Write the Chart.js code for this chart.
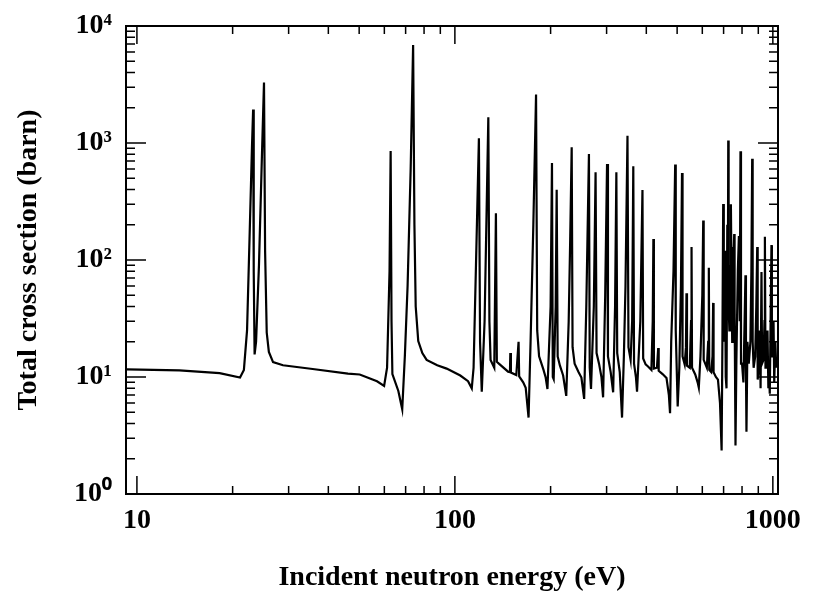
<!DOCTYPE html>
<html>
<head>
<meta charset="utf-8">
<script src="https://cdn.jsdelivr.net/npm/chart.js@4.4.1/dist/chart.umd.min.js"></script>
<style>
  html, body { margin: 0; padding: 0; background: #fff; }
  #wrap { width: 815px; height: 598px; }
</style>
</head>
<body>
<div id="wrap"><canvas id="chart1" width="815" height="598"></canvas></div>
<script>
// (log-log), eV vs barn
const energyEV = [
  9.3, 13.6, 18.2, 21.1, 21.7, 22.2, 22.6, 23.0, 23.2, 23.3,
  23.45, 23.7, 24.2, 24.7, 25.1, 25.3, 25.6, 26.0, 26.8, 28.8,
  35.7, 46.1, 50.2, 56.9, 59.9, 61.2, 62.3, 62.8, 63.2, 63.6,
  66.4, 68.3, 69.6, 71.0, 72.6, 73.9, 74.6, 75.3, 76.7, 79,
  81.5, 88, 94.2, 104, 110, 113, 114.5, 116.5, 119, 120,
  121.5, 124, 127.4, 128.4, 129.5, 133, 134.6, 135.5, 137.5, 147,
  149, 149.4, 150, 156, 158.6, 159.3, 164, 167, 170.5, 173,
  176.5, 180, 181.5, 184, 190, 193, 195.5, 200, 202, 203.2,
  204.5, 207.5, 209, 210.5, 214, 219, 224, 228, 230.5, 233,
  234.5, 238, 245, 250, 255, 259, 264, 265.5, 268, 273.5,
  277, 279, 284, 289, 292.5, 297, 301, 303, 309, 314.6,
  319, 322, 324, 330, 335.5, 340, 344, 349, 351.5, 357,
  361, 364, 366, 371, 374, 383, 389, 391, 398, 405,
  415, 419, 421, 422.5, 432, 436, 437.5, 450, 463, 471,
  475, 479, 487, 493, 495, 502, 508, 514, 518, 520,
  528, 533, 535, 537, 548, 553, 555, 557, 570, 580,
  585, 592, 600, 604, 606, 620, 626, 629, 631, 640,
  646, 649, 651, 662, 672, 682, 690, 694, 698, 701,
  705, 708, 710, 712, 715, 719, 722, 724, 726, 730,
  733, 735, 738, 740, 742, 745, 748, 752, 756, 758,
  763, 768, 776, 782, 787, 791, 794, 800, 808, 815,
  820, 823, 826, 832, 840, 850, 856, 861, 864, 870,
  880, 887, 893, 896, 903, 910, 915, 921, 925, 935,
  941, 944, 948, 955, 962, 968, 975, 978, 985, 990,
  993, 1000, 1005, 1010, 1018, 1025, 1030
];
const crossSection = [
  11.6, 11.4, 10.8, 9.9, 11.5, 25, 150, 900, 1930, 80,
  15.6, 20, 90, 700, 3290, 120, 24, 16.4, 13.4, 12.6,
  11.7, 10.7, 10.5, 9.2, 8.4, 12, 80, 855, 30, 10.6,
  7.6, 5.3, 15, 60, 600, 6880, 200, 40, 20.3, 16,
  14, 12.6, 11.8, 10.3, 9.2, 8.0, 12, 90, 1097, 20,
  7.5, 30, 1660, 30, 14, 12, 251, 13.5, 13, 11.1,
  11, 16, 10.9, 10.4, 20, 10.1, 9, 8.1, 4.5, 20,
  200, 2600, 25, 15, 11.5, 9.9, 7.9, 40, 675, 10,
  9.6, 40, 398, 15, 12.5, 10.3, 6.9, 30, 150, 919,
  18, 13, 11, 9.9, 6.5, 40, 805, 12, 7.9, 40,
  561, 16, 13, 10, 6.7, 50, 662, 15, 11, 7.4,
  40, 561, 16, 11, 4.5, 15, 60, 1155, 18, 14,
  30, 632, 13, 10, 7.5, 30, 396, 14.4, 12.8, 12.3,
  11.5, 30, 151, 11.8, 12, 17.7, 11.3, 10.6, 9.8, 7,
  4.9, 20, 80, 654, 25, 5.6, 12, 60, 554, 15,
  12.8, 18, 52, 12.5, 12, 30, 129, 12, 10.5, 9,
  8.1, 15, 50, 218, 14, 12, 20, 86, 11.5, 11,
  15, 43, 11, 10, 9.5, 6, 2.35, 20, 301, 30,
  20, 60, 120, 10, 8, 200, 60, 1048, 40, 25,
  90, 40, 300, 129, 60, 20, 30, 100, 167, 40,
  2.6, 14, 80, 160, 30, 849, 13, 13, 9, 30,
  74, 12, 3.4, 20, 13, 20, 80, 733, 20, 12,
  15, 40, 129, 9.5, 12, 25, 8, 79, 13, 14,
  30, 158, 12, 12, 25, 8, 9, 7.2, 40, 134,
  15, 15, 30, 9, 20, 12, 12
];

const xTickValues = [10, 100, 1000];
const xTickLabels = ['10', '100', '1000'];
const yTickValues = [1, 10, 100, 1000, 10000];
const yTickLabels = ['10\u2070', '10\u00b9', '10\u00b2', '10\u00b3', '10\u2074'];

const serif = '"Liberation Serif", "Times New Roman", serif';

// inward ticks on all four sides plus the frame
const frameTicks = {
  id: 'frameTicks',
  afterDraw(chart) {
    const { ctx, chartArea: a, scales } = chart;
    const xs = scales.x, ys = scales.y;
    ctx.save();
    ctx.strokeStyle = '#000';
    ctx.lineWidth = 1.5;
    [1, 10, 100, 1000].forEach((d) => {
      for (let m = 1; m <= 9; m++) {
        const v = d * m;
        if (v < xs.min || v > xs.max) continue;
        const px = xs.getPixelForValue(v);
        const len = m === 1 ? 18 : 8;
        ctx.beginPath();
        ctx.moveTo(px, a.bottom); ctx.lineTo(px, a.bottom - len);
        ctx.moveTo(px, a.top); ctx.lineTo(px, a.top + len);
        ctx.stroke();
      }
    });
    [1, 10, 100, 1000, 10000].forEach((d) => {
      for (let m = 1; m <= 9; m++) {
        const v = d * m;
        if (v < ys.min || v > ys.max) continue;
        const py = ys.getPixelForValue(v);
        const len = m === 1 ? 20 : 9;
        ctx.beginPath();
        ctx.moveTo(a.left, py); ctx.lineTo(a.left + len, py);
        ctx.moveTo(a.right, py); ctx.lineTo(a.right - len, py);
        ctx.stroke();
      }
    });
    ctx.lineWidth = 2;
    ctx.strokeRect(a.left, a.top, a.right - a.left, a.bottom - a.top);
    ctx.restore();
  }
};

document.addEventListener('DOMContentLoaded', function () {
  const ctx = document.getElementById('chart1').getContext('2d');
  new Chart(ctx, {
    type: 'line',
    data: {
      datasets: [{
        label: 'Total cross section',
        data: energyEV.map((e, i) => ({ x: e, y: crossSection[i] })),
        borderColor: '#000',
        borderWidth: 2.2,
        pointRadius: 0,
        fill: false,
        tension: 0
      }]
    },
    options: {
      responsive: false,
      animation: false,
      layout: { padding: { top: 26, right: 37, left: 0, bottom: 0 } },
      plugins: { legend: { display: false }, tooltip: { enabled: false } },
      scales: {
        x: {
          type: 'logarithmic',
          min: 9.24,
          max: 1038,
          grid: { display: false },
          border: { display: false },
          afterBuildTicks: (s) => { s.ticks = xTickValues.map((v) => ({ value: v })); },
          afterFit: (s) => { s.height = 104; },
          ticks: {
            color: '#000',
            padding: 2,
            maxRotation: 0,
            font: { family: serif, size: 28, weight: 'bold' },
            callback: (v) => xTickLabels[xTickValues.indexOf(v)]
          },
          title: {
            display: true,
            text: 'Incident neutron energy (eV)',
            color: '#000',
            padding: { top: 4, bottom: 3 },
            font: { family: serif, size: 28, weight: 'bold' }
          }
        },
        y: {
          type: 'logarithmic',
          min: 1,
          max: 10000,
          grid: { display: false },
          border: { display: false },
          afterBuildTicks: (s) => { s.ticks = yTickValues.map((v) => ({ value: v })); },
          afterFit: (s) => { s.width = 126; },
          ticks: {
            color: '#000',
            padding: 6,
            font: { family: serif, size: 28, weight: 'bold' },
            callback: (v) => yTickLabels[yTickValues.indexOf(v)]
          },
          title: {
            display: true,
            text: 'Total cross section (barn)',
            color: '#000',
            padding: { top: 12, bottom: 0 },
            font: { family: serif, size: 28, weight: 'bold' }
          }
        }
      }
    },
    plugins: [frameTicks]
  });
});
</script>
</body>
</html>
